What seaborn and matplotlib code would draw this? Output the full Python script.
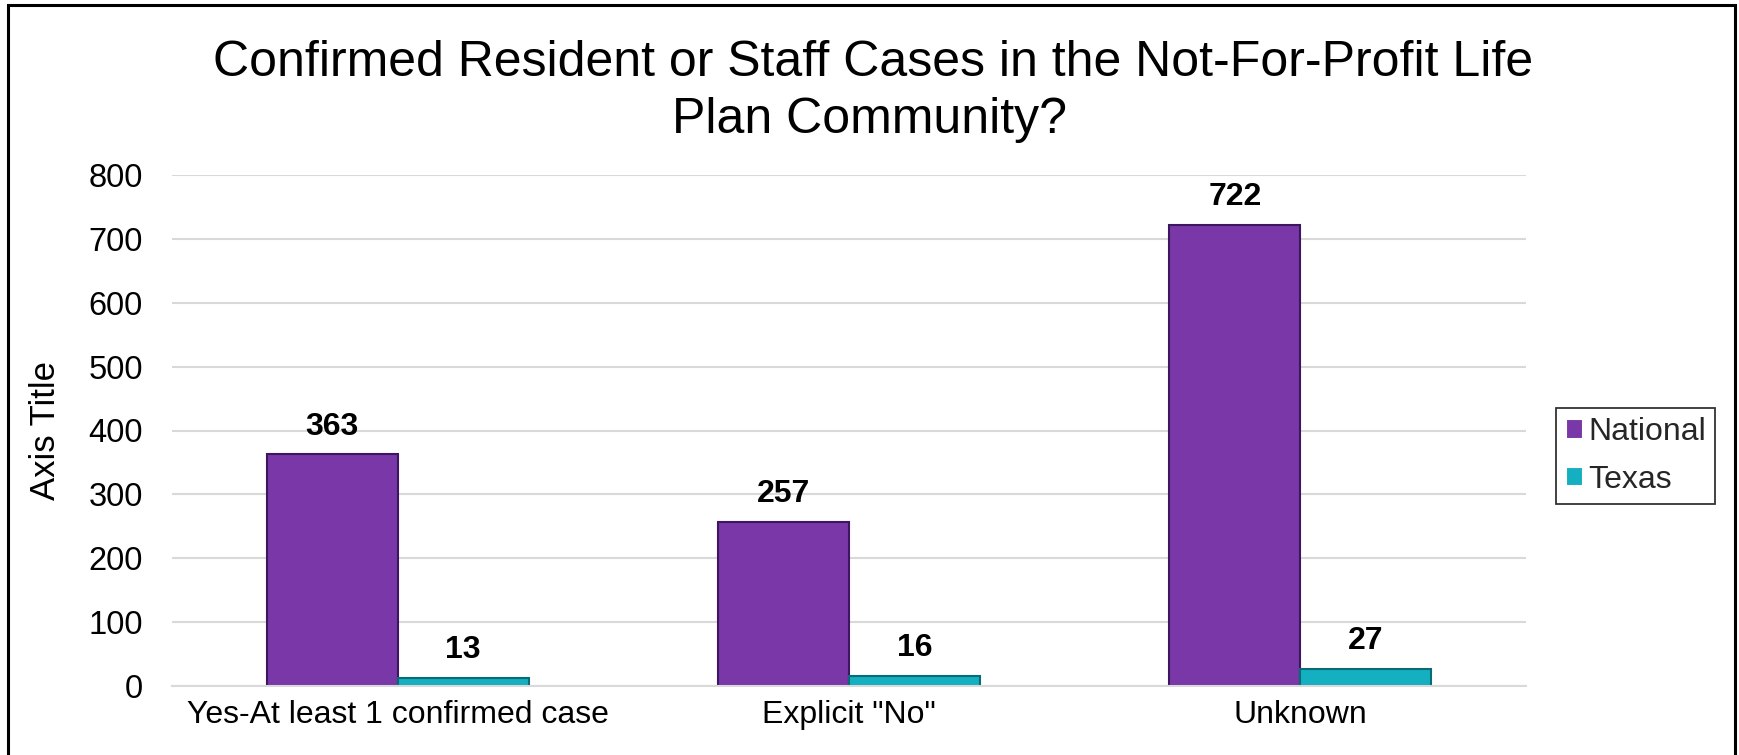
import matplotlib
matplotlib.use("Agg")
import matplotlib.pyplot as plt
import seaborn as sns
import pandas as pd
from matplotlib.patches import Rectangle

categories = ['Yes-At least 1 confirmed case', 'Explicit "No"', 'Unknown']
national = [363, 257, 722]
texas = [13, 16, 27]
series_names = ['National', 'Texas']
yticks = [0, 100, 200, 300, 400, 500, 600, 700, 800]

sns.set_theme(style="white")
plt.rcParams['font.family'] = ['Liberation Sans', 'DejaVu Sans']

df = pd.DataFrame({
    'cat': categories * 2,
    'series': [series_names[0]] * 3 + [series_names[1]] * 3,
    'value': national + texas,
})

W, H = 1739, 755
fig = plt.figure(figsize=(W / 100, H / 100), dpi=100)
ax = fig.add_axes([172 / W, 1 - 686 / H, (1526 - 172) / W, (686 - 175) / H])

palette = {'National': '#7937A8', 'Texas': '#14AFC0'}
sns.barplot(data=df, x='cat', y='value', hue='series', palette=palette,
            width=0.58, ax=ax, saturation=1, linewidth=1.5)
for bars, ec in zip(ax.containers, ['#3d1660', '#0a6a75']):
    for b in bars:
        b.set_edgecolor(ec)

for bars in ax.containers:
    ax.bar_label(bars, padding=9, fontsize=23, fontweight='bold', color='black')

ax.set_xlim(-0.5, 2.5)
ax.set_ylim(0, 800)
ax.set_yticks(yticks)
ax.tick_params(axis='y', labelsize=23.5, length=0, pad=21, colors='black')
ax.tick_params(axis='x', labelsize=23, length=0, pad=10, colors='black')
ax.set_xlabel('')
ax.set_ylabel('Axis Title', fontsize=25, color='black')
ax.yaxis.set_label_coords((62 - 172) / (1526 - 172), 0.5)
ax.yaxis.grid(True, color='#d9d9d9', linewidth=1.5)
ax.set_axisbelow(True)
for s in ['top', 'right', 'left']:
    ax.spines[s].set_visible(False)
ax.spines['bottom'].set_color('#d9d9d9')
ax.spines['bottom'].set_linewidth(1.5)

fig.text(873 / W, 1 - 76 / H, 'Confirmed Resident or Staff Cases in the Not-For-Profit Life',
         fontsize=36, ha='center', va='baseline', color='black')
fig.text(869 / W, 1 - 133 / H, 'Plan Community?',
         fontsize=36, ha='center', va='baseline', color='black')

leg = ax.legend(loc='center left', bbox_to_anchor=(1556 / W, 1 - 456 / H),
                bbox_transform=fig.transFigure, fontsize=23, frameon=True,
                fancybox=False, edgecolor='black', handlelength=0.55,
                handleheight=0.55, handletextpad=0.15, borderpad=0.3,
                borderaxespad=0, labelspacing=0.55)
leg.get_frame().set_linewidth(1.3)
leg.set_title(None)

fig.patches.append(Rectangle((8 / W, -0.01), (1735 - 8) / W, 1 - 5 / H + 0.01,
                             transform=fig.transFigure, fill=False,
                             edgecolor='black', linewidth=2.2))

fig.savefig('out.png', dpi=100)
